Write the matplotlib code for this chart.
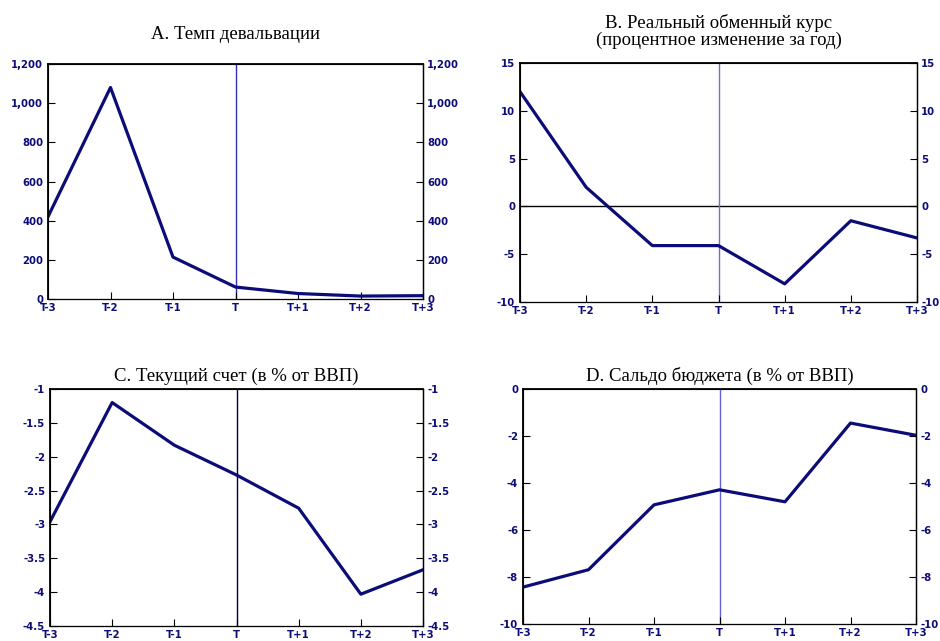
import matplotlib
matplotlib.use('Agg')
from matplotlib import pyplot as plt

## данные
periods = ['T-3', 'T-2', 'T-1', 'T', 'T+1', 'T+2', 'T+3']
devaluation = [420, 1080, 214, 61, 28, 15, 17]
real_rate = [12.0, 2.0, -4.1, -4.1, -8.1, -1.5, -3.3]
current_account = [-2.96, -1.2, -1.83, -2.27, -2.76, -4.03, -3.67]
budget = [-8.43, -7.69, -4.93, -4.29, -4.80, -1.45, -1.97]

titles = ['А. Темп девальвации',
          'B. Реальный обменный курс\n(процентное изменение за год)',
          'C. Текущий счет (в % от ВВП)',
          'D. Сальдо бюджета (в % от ВВП)']

navy = '#0c0c78'
tick_font = {'family': 'DejaVu Sans', 'weight': 'bold', 'size': 7.3}

fig = plt.figure(figsize=(9.4, 6.41), dpi=100)

## положение осей в пикселях (x0, y0, x1, y1)
boxes = [(48, 64, 423, 299), (520, 63, 917, 302),
         (50, 389, 423, 626), (523, 389, 916, 624)]
W, H = 940, 641


def make_ax(box):
    x0, y0, x1, y1 = box
    return fig.add_axes([x0 / W, 1 - y1 / H, (x1 - x0) / W, (y1 - y0) / H])


def style(ax, ylim, yticks, ylabels, vcolor):
    ax.set_xlim(0, len(periods) - 1)
    ax.set_ylim(*ylim)
    ax.axvline(3, color=vcolor, lw=1.0, zorder=1)
    ax.set_xticks(range(len(periods)))
    ax.set_xticklabels(periods, fontdict=tick_font, color=navy)
    ax.set_yticks(yticks)
    ax.set_yticklabels(ylabels, fontdict=tick_font, color=navy)
    ax.tick_params(axis='x', direction='in', length=5, pad=3)
    ax.tick_params(axis='y', direction='in', length=5, pad=3.5)
    for side in ['left', 'top']:
        ax.spines[side].set_linewidth(1.3)
    ax.spines['right'].set_linewidth(1.0)
    ax.spines['bottom'].set_color('#444444')
    ax.spines['bottom'].set_linewidth(0.9)
    ## правая ось с теми же делениями
    ax2 = ax.twinx()
    ax2.set_ylim(*ylim)
    ax2.set_yticks(yticks)
    ax2.set_yticklabels(ylabels, fontdict=tick_font, color=navy)
    ax2.tick_params(axis='y', direction='in', length=5, pad=3)
    return ax2


x = list(range(len(periods)))
title_kw = dict(family='Liberation Serif', fontsize=13.5)

## A
ax = make_ax(boxes[0])
ax.plot(x, devaluation, color=navy, lw=2.3, zorder=3)
style(ax, (0, 1200), [0, 200, 400, 600, 800, 1000, 1200],
      ['0', '200', '400', '600', '800', '1,000', '1,200'], '#3030c0')
ax.set_title(titles[0], pad=18, **title_kw)

## B
ax = make_ax(boxes[1])
ax.axhline(0, color='black', lw=1.0, zorder=1)
ax.plot(x, real_rate, color=navy, lw=2.3, zorder=3)
style(ax, (-10, 15), [-10, -5, 0, 5, 10, 15],
      ['-10', '-5', '0', '5', '10', '15'], '#7070d0')
ax.set_title(titles[1], pad=13, linespacing=0.95, **title_kw)

## C
ax = make_ax(boxes[2])
ax.plot(x, current_account, color=navy, lw=2.3, zorder=3)
style(ax, (-4.5, -1), [-4.5, -4, -3.5, -3, -2.5, -2, -1.5, -1],
      ['-4.5', '-4', '-3.5', '-3', '-2.5', '-2', '-1.5', '-1'], '#000040')
ax.set_title(titles[2], pad=6, **title_kw)

## D
ax = make_ax(boxes[3])
ax.plot(x, budget, color=navy, lw=2.3, zorder=3)
style(ax, (-10, 0), [-10, -8, -6, -4, -2, 0],
      ['-10', '-8', '-6', '-4', '-2', '0'], '#6060d0')
ax.set_title(titles[3], pad=6, **title_kw)

plt.savefig('out.png', dpi=100)
